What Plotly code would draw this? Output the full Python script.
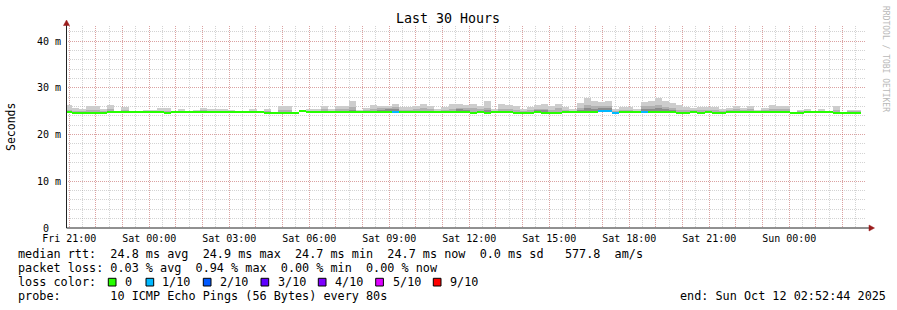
import plotly.graph_objects as go
import pandas as pd
import numpy as np

# ---------------- data ----------------
START = "2025-10-10 20:52:44"
END = "2025-10-12 02:52:44"
BAR_START = "2025-10-10 20:49:35"   # first consolidated 960 s interval
STEP_S = 960

# median rtt per 960 s interval (ms)
median = [24.8,
          24.6, 24.6, 24.6, 24.6, 24.6,
          24.8, 24.8, 24.8, 24.8, 24.8, 24.8, 24.8, 24.8,
          24.6,
          24.8, 24.8, 24.8, 24.8, 24.8, 24.8, 24.8, 24.8, 24.8, 24.8, 24.8, 24.8, 24.8,
          24.6, 24.6, 24.6, 24.6, 24.6,
          25.0,
          24.8, 24.8, 24.8, 24.8, 24.8, 24.8, 24.8, 24.8, 24.8, 24.8, 24.8, 24.8,
          24.8, 24.8, 24.8, 24.8, 24.8, 24.8, 24.8, 24.8, 24.8, 24.8, 24.8,
          24.6, 24.8, 24.6,
          24.8, 24.8, 24.8,
          24.6, 24.6, 24.6,
          24.8,
          24.6, 24.6, 24.6,
          24.8, 24.8, 24.8, 24.8, 24.8,
          25.0, 25.0,
          24.6,
          24.8, 24.8, 24.8, 24.8, 24.8, 24.8, 24.8, 24.8,
          24.6, 24.6, 24.8, 24.6, 24.8, 24.6, 24.6,
          24.8, 24.8, 24.8, 24.8, 24.8, 24.8, 24.8, 24.8, 24.8,
          24.6, 24.6,
          24.8, 24.8, 24.8, 24.8,
          24.6, 24.6, 24.6, 24.6]

# loss bucket per interval (lost pings out of 10)
loss = [0] * 46 + [1] + [0] * 28 + [1, 1, 1] + [0] * 3 + [1] + [0] * 30

# smoke: highest ping (ms)
smoke_max = [26.3, 25.7, 25.5, 26.1, 26.0, 25.5, 26.3, 24.9, 25.8, 24.9,
             24.9, 25.2, 25.2, 25.7, 25.7, 24.9, 25.5, 24.9, 25.2, 25.7,
             25.5, 25.5, 25.5, 25.3, 24.9, 24.9, 25.5, 24.9, 25.5, 24.8,
             26.0, 26.0, 24.8, 25.0, 25.5, 25.5, 26.2, 25.5, 26.0, 26.2,
             27.2, 25.3, 25.7, 26.4, 26.0, 26.1, 26.5, 25.9, 25.9, 26.1,
             26.5, 26.1, 25.5, 25.9, 26.5, 26.5, 26.3, 26.5, 26.1, 27.2,
             25.5, 26.5, 26.3, 26.1, 25.5, 25.9, 26.3, 26.5, 26.1, 26.5,
             25.9, 25.5, 26.7, 27.8, 27.2, 27.0, 27.2, 25.5, 25.9, 25.9,
             25.5, 27.0, 27.2, 27.8, 27.2, 26.7, 26.3, 25.9, 25.7, 25.9,
             25.9, 25.9, 25.5, 25.7, 26.1, 25.7, 26.1, 25.3, 25.7, 26.3,
             26.1, 26.1, 24.8, 25.3, 25.5, 24.9, 25.5, 24.9, 26.1, 24.8,
             25.3, 25.3]

# smoke: upper edge of the middle band (ms)
smoke_mid = [25.3, 25.0, 24.9, 25.2, 25.2, 24.9, 25.4, 24.8, 25.2, 24.8,
             24.8, 25.0, 25.0, 25.1, 25.0, 24.8, 25.1, 24.8, 25.0, 25.2,
             25.1, 25.1, 25.1, 25.0, 24.8, 24.8, 25.1, 24.8, 25.0, 24.6,
             25.3, 25.2, 24.6, 25.0, 25.1, 25.1, 25.5, 25.1, 25.4, 25.5,
             25.8, 25.0, 25.2, 25.5, 25.6, 25.7, 25.8, 25.3, 25.3, 25.4,
             25.6, 25.4, 25.1, 25.3, 25.5, 25.7, 25.6, 25.6, 25.4, 25.7,
             25.1, 25.5, 25.4, 25.3, 25.0, 25.2, 25.4, 25.5, 25.3, 25.6,
             25.3, 25.1, 25.7, 26.4, 26.0, 26.1, 26.1, 25.0, 25.3, 25.3,
             25.1, 26.0, 26.1, 26.3, 25.9, 25.6, 25.3, 25.2, 25.2, 25.2,
             25.3, 25.2, 25.0, 25.2, 25.4, 25.2, 25.4, 25.0, 25.2, 25.5,
             25.4, 25.4, 24.6, 24.9, 25.1, 24.8, 25.1, 24.8, 25.3, 24.6,
             24.9, 24.9]

# smoke: upper edge of the dark inner band (ms), None where absent
smoke_dark = [None] * 40 + [25.3] + [None] * 3 + [25.3, 25.4, 25.5] + [None] * 8 + \
             [25.4, 25.2, None, None, 25.2] + [None] * 6 + [25.2, 25.2] + [None] * 4 + \
             [25.3, 25.6, 25.5, 25.6, 25.6] + [None] * 4 + [25.5, 25.5, 25.6, 25.4, 25.2] + \
             [None] * 26

LOSS_COLORS = {0: "#26ff00", 1: "#00b8ff", 2: "#0059ff", 3: "#5e00ff",
               4: "#7e00ff", 5: "#dd00ff", 9: "#ff0000"}
LEGEND_LABELS = ["0", "1/10", "2/10", "3/10", "4/10", "5/10", "9/10"]
LEGEND_KEYS = [0, 1, 2, 3, 4, 5, 9]

Y_TICKS = [0, 10, 20, 30, 40]
Y_TICKTEXT = ["0\u00a0\u00a0", "10 m", "20 m", "30 m", "40 m"]

STATS_1 = "median rtt:  24.8 ms avg  24.9 ms max  24.7 ms min  24.7 ms now  0.0 ms sd   577.8  am/s"
STATS_2 = "packet loss: 0.03 % avg  0.94 % max  0.00 % min  0.00 % now"
STATS_3 = "loss color:"
STATS_4 = "probe:       10 ICMP Echo Pings (56 Bytes) every 80s"
END_TXT = "end: Sun Oct 12 02:52:44 2025"
TITLE = "Last 30 Hours"

# ---------------- figure ----------------
N = len(median)
med = np.array(median)
times = pd.date_range(BAR_START, periods=N, freq=f"{STEP_S}s") + pd.Timedelta(seconds=STEP_S / 2)
W = STEP_S * 1000
dark = np.array([d if d is not None else m for d, m in zip(smoke_dark, median)])

fig = go.Figure()
for top, col in [(np.array(smoke_max), "#cdcdcd"), (np.array(smoke_mid), "#b0b0b0"), (dark, "#8c8c8c")]:
    fig.add_trace(go.Bar(x=times, y=top - med, base=med, width=W,
                         marker=dict(color=col, line=dict(width=0)), hoverinfo="skip"))

LINE_H = 0.43
fig.add_trace(go.Bar(x=times, y=[LINE_H] * N, base=med - LINE_H / 2, width=W,
                     marker=dict(color=[LOSS_COLORS[l] for l in loss], line=dict(width=0))))

# geometry helpers (pixel -> paper)
L, R, T, B = 66, 31, 26, 82
PW, PH = 897 - L - R, 310 - T - B
def px(x):
    return (x - L) / PW
def py(y):
    return (310 - B - y) / PH

RED = "rgba(235,60,60,0.32)"
GRAY = "rgba(150,150,150,0.42)"
DASH = "1px,1px"
MONO = "DejaVu Sans Mono"

hours = pd.date_range("2025-10-10 21:00", "2025-10-12 02:00", freq="1h")
hour_labels = [h.strftime("%a %H:%M") if h.hour % 3 == 0 else "" for h in hours]

fig.update_layout(
    width=897, height=310, margin=dict(l=L, r=R, t=T, b=B),
    plot_bgcolor="white", paper_bgcolor="white", showlegend=False,
    barmode="overlay", bargap=0,
    font=dict(family=MONO, size=10, color="#000"),
    xaxis=dict(type="date", range=[START, END], tickmode="array", tickvals=hours,
               ticktext=hour_labels, showgrid=True, gridcolor=RED, griddash=DASH,
               gridwidth=1, ticks="", showline=False, zeroline=False,
               ticklabelstandoff=3,
               tickfont=dict(family=MONO, size=10, color="#000"),
               minor=dict(dtick=1800000, tick0="2025-10-10 21:00:00", showgrid=True,
                          gridcolor=GRAY, griddash=DASH, gridwidth=1)),
    yaxis=dict(range=[0, (310 - B - T) / 46.75 * 10], tickmode="array", tickvals=Y_TICKS,
               ticktext=Y_TICKTEXT, showgrid=True, gridcolor=RED, griddash=DASH,
               gridwidth=1, ticks="", showline=False, zeroline=False,
               ticklabelstandoff=4,
               tickfont=dict(family=MONO, size=10, color="#000"),
               minor=dict(dtick=2, tick0=0, showgrid=True, gridcolor=GRAY,
                          griddash=DASH, gridwidth=1)),
)

shapes = []
AX = "#222222"
ARROW = "#9b1c1c"
shapes.append(dict(type="line", xref="paper", yref="paper", x0=px(66.5), x1=px(870),
                   y0=py(228), y1=py(228), line=dict(color=AX, width=1)))
shapes.append(dict(type="line", xref="paper", yref="paper", x0=px(66.5), x1=px(66.5),
                   y0=py(228), y1=py(23), line=dict(color=AX, width=1)))
shapes.append(dict(type="path", xref="paper", yref="paper",
                   path=f"M {px(63.5)},{py(25.5)} L {px(69.5)},{py(25.5)} L {px(66.5)},{py(20)} Z",
                   fillcolor=ARROW, line=dict(color=ARROW, width=0.5)))
shapes.append(dict(type="path", xref="paper", yref="paper",
                   path=f"M {px(869)},{py(225)} L {px(869)},{py(231)} L {px(874.5)},{py(228)} Z",
                   fillcolor=ARROW, line=dict(color=ARROW, width=0.5)))

# loss colour swatches
SW_X = [108.3, 146, 203.3, 261, 318.3, 375.7, 433.3]
LB_X = [123.3, 160, 218.3, 276, 333, 390.7, 448]
for sx, k in zip(SW_X, LEGEND_KEYS):
    shapes.append(dict(type="rect", xref="paper", yref="paper",
                       x0=px(sx), x1=px(sx + 7.7), y0=py(286), y1=py(278.3),
                       fillcolor=LOSS_COLORS[k], line=dict(color="#000", width=1)))
fig.update_layout(shapes=shapes)

def nb(s):
    return s.replace(" ", "\u00a0")

ann = []
def add(text, x, y, size=11.8, xanchor="left", color="#000", angle=0):
    ann.append(dict(text=nb(text), x=px(x), y=py(y), xref="paper", yref="paper",
                    showarrow=False, xanchor=xanchor, yanchor="middle", textangle=angle,
                    font=dict(family=MONO, size=size, color=color)))

add(TITLE, 448, 19, size=13.3, xanchor="center")
add("Seconds", 11, 127, size=11.5, xanchor="center", angle=-90)
add("RRDTOOL / TOBI OETIKER", 886, 59, size=8, xanchor="center", color="#b8b8b8", angle=90)
add(STATS_1, 16, 254.3)
add(STATS_2, 16, 268.3)
add(STATS_3, 16, 282.3)
for lx, lab in zip(LB_X, LEGEND_LABELS):
    add(lab, lx, 282.3)
add(STATS_4, 16, 296.3)
add(END_TXT, 678, 296.3)
fig.update_layout(annotations=ann)

fig.write_html("out.html")
